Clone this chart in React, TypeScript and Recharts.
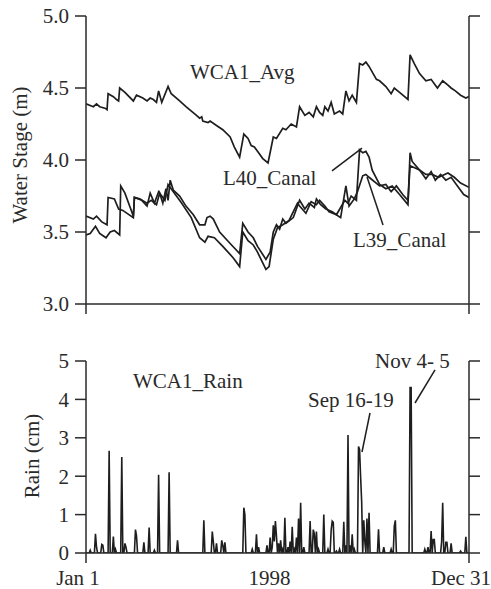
import React from 'react';
import { LineChart, Line, XAxis, YAxis, ReferenceLine, ReferenceDot } from 'recharts';

// ---- Water stage (m), day of year 1998 ----
const wcaDays = [0,7,10,13,18,20,21,26,29,31,32,37,45,48,54,58,61,64,67,69,72,78,81,89,95,105,108,110,111,116,118,124,130,137,141,146,150,154,157,160,163,168,173,178,181,187,190,195,200,203,208,212,216,219,222,225,227,230,233,236,241,244,247,250,253,257,260,263,266,269,276,279,285,290,293,298,306,308,312,317,323,328,331,334,339,344,347,351,356,361,364];
const wcaStage = [4.39,4.37,4.39,4.37,4.36,4.35,4.46,4.44,4.42,4.41,4.50,4.47,4.41,4.45,4.43,4.41,4.43,4.42,4.40,4.48,4.40,4.51,4.46,4.41,4.37,4.31,4.29,4.30,4.27,4.26,4.27,4.24,4.21,4.16,4.09,4.02,4.18,4.15,4.10,4.09,4.06,4.01,3.98,4.16,4.15,4.22,4.21,4.25,4.23,4.37,4.31,4.33,4.30,4.37,4.33,4.31,4.37,4.34,4.40,4.32,4.34,4.32,4.48,4.41,4.45,4.40,4.67,4.66,4.68,4.65,4.56,4.55,4.51,4.46,4.50,4.47,4.42,4.73,4.67,4.60,4.55,4.56,4.53,4.50,4.55,4.52,4.50,4.48,4.45,4.43,4.44];

const l40Days = [0,7,10,15,20,21,27,31,35,45,46,51,58,62,67,70,73,76,78,80,83,89,95,102,108,113,115,118,121,127,137,146,149,154,159,163,171,175,178,181,184,187,190,197,201,203,208,212,217,219,223,228,234,238,242,246,249,252,257,260,263,266,269,272,279,285,291,298,306,308,310,317,323,328,332,337,342,347,353,359,364];
const l40Stage = [3.61,3.59,3.61,3.57,3.55,3.74,3.73,3.66,3.65,3.60,3.74,3.73,3.70,3.72,3.69,3.77,3.70,3.80,3.72,3.86,3.79,3.75,3.68,3.62,3.55,3.55,3.60,3.61,3.59,3.50,3.42,3.35,3.56,3.50,3.46,3.40,3.31,3.36,3.50,3.55,3.52,3.59,3.56,3.60,3.68,3.72,3.66,3.70,3.67,3.73,3.69,3.66,3.64,3.62,3.67,3.72,3.70,3.75,3.72,4.07,4.05,4.06,4.02,3.93,3.83,3.80,3.82,3.76,3.69,4.05,3.99,3.93,3.87,3.92,3.86,3.90,3.86,3.88,3.82,3.76,3.74];

const l39Days = [0,4,9,13,19,23,27,32,33,37,42,45,46,53,58,61,65,69,75,78,83,91,100,108,113,116,122,130,140,146,149,154,159,163,171,174,178,182,187,193,201,203,209,214,219,222,227,231,238,242,247,250,255,258,263,266,269,279,285,290,295,301,306,308,317,323,329,335,344,350,356,364];
const l39Stage = [3.48,3.49,3.54,3.49,3.46,3.50,3.51,3.48,3.82,3.77,3.67,3.61,3.74,3.72,3.68,3.77,3.70,3.78,3.72,3.83,3.78,3.70,3.60,3.46,3.43,3.47,3.46,3.40,3.32,3.26,3.50,3.44,3.41,3.36,3.24,3.26,3.45,3.53,3.55,3.58,3.70,3.68,3.63,3.71,3.69,3.72,3.68,3.64,3.62,3.60,3.82,3.68,3.73,3.78,3.89,3.90,3.88,3.82,3.83,3.78,3.82,3.76,3.72,3.96,3.93,3.90,3.90,3.88,3.91,3.88,3.84,3.81];

// ---- Rain (cm), rainy days; all other days are 0 ----
const rainDays = [4,9,10,15,16,22,26,28,34,37,38,47,48,55,60,65,69,79,87,112,120,121,124,129,130,132,150,151,158,162,164,172,175,177,178,179,180,181,183,185,187,189,192,194,196,198,200,202,204,207,213,216,217,219,221,226,230,233,234,235,238,241,245,247,249,251,253,255,259,260,261,262,264,265,267,269,278,283,290,293,294,308,309,322,325,328,330,331,338,339,342,343,347,356,361];
const rainCm = [0.07,0.5,0.15,0.22,0.2,2.66,0.43,0.1,2.5,0.25,0.15,0.61,0.45,0.28,0.66,0.07,2.04,2.1,0.33,0.85,0.56,0.3,0.25,0.33,0.2,0.28,1.18,1.0,0.1,0.49,0.15,0.2,0.4,0.15,0.72,0.3,0.83,0.45,0.25,0.33,0.1,0.92,0.15,0.3,0.68,0.1,0.4,0.9,1.31,0.15,0.83,0.61,0.5,0.56,0.1,1.0,0.1,0.6,0.83,0.8,0.05,0.1,0.81,0.2,3.07,0.2,0.49,0.1,2.77,2.7,1.98,1.33,0.85,0.3,0.9,1.05,0.62,0.15,0.1,0.7,0.85,4.31,4.31,0.1,0.15,0.57,0.35,0.35,0.3,1.31,0.28,0.28,0.25,0.05,0.42];

const stageTicks = [3.0, 3.5, 4.0, 4.5, 5.0];
const rainTicks = [0, 1, 2, 3, 4, 5];
const xTickDays = [0, 182, 364];
const xTickLabels = ['Jan 1', '1998', 'Dec 31'];

const pairs = (d: number[], v: number[]) => d.map((day, i) => ({ d: day, v: v[i] }));
const wcaData = pairs(wcaDays, wcaStage);
const l40Data = pairs(l40Days, l40Stage);
const l39Data = pairs(l39Days, l39Stage);
const rainData = Array.from({ length: 365 }, (_, day) => {
  const k = rainDays.indexOf(day);
  return { d: day, v: k >= 0 ? rainCm[k] : 0 };
});

const FONT = '"Liberation Serif", "Times New Roman", serif';
const FS = 21;
const INK = '#1e1e1e';
const AX = '#2a2a2a';

const tickStyle = { fontFamily: FONT, fontSize: FS, fill: '#2a2a2a' };

const TextAt = (txt: string, anchor: 'start' | 'middle' | 'end' = 'start') => (p: any) => (
  <text x={p.cx} y={p.cy} textAnchor={anchor} fontFamily={FONT} fontSize={FS} fill="#2a2a2a">{txt}</text>
);

const TS = 10;
const TM = 7;
const RainXTick = (p: any) => {
  const { x, y, payload } = p;
  const idx = xTickDays.indexOf(payload.value);
  return (
    <g>
      {payload.value !== 182 && (
        <line x1={x} x2={x} y1={y - TS - TM} y2={y - TM} stroke={AX} strokeWidth={1.5} />
      )}
      <text x={x - 8} y={y} dy="0.71em" textAnchor="middle" fontFamily={FONT} fontSize={FS} fill="#2a2a2a">
        {xTickLabels[idx]}
      </text>
    </g>
  );
};

export default function App() {
  const W = 491;
  return (
    <div style={{ position: 'absolute', left: 0, top: 0, width: W, height: 589, background: '#fff' }}>
      <div style={{ position: 'absolute', left: 0, top: 0 }}>
        <LineChart width={W} height={330} margin={{ top: 16, right: 0, bottom: 0, left: 0 }}>
          <XAxis
            dataKey="d"
            type="number"
            domain={[0, 364]}
            ticks={[0, 364]}
            tickFormatter={() => ''}
            tickSize={10}
            height={26}
            axisLine={{ stroke: AX, strokeWidth: 1.5 }}
            tickLine={{ stroke: AX, strokeWidth: 1.5 }}
            allowDataOverflow
          />
          <YAxis
            type="number"
            domain={[3, 5]}
            ticks={stageTicks}
            tickFormatter={(v: number) => v.toFixed(1)}
            width={86}
            tickSize={11}
            tickMargin={6}
            tick={tickStyle}
            axisLine={{ stroke: AX, strokeWidth: 1.5 }}
            tickLine={{ stroke: AX, strokeWidth: 1.5 }}
            allowDataOverflow
          />
          <YAxis
            yAxisId="r"
            orientation="right"
            type="number"
            domain={[3, 5]}
            ticks={stageTicks}
            tickFormatter={() => ''}
            width={22}
            tickSize={11}
            axisLine={{ stroke: AX, strokeWidth: 1.5 }}
            tickLine={{ stroke: AX, strokeWidth: 1.5 }}
            allowDataOverflow
          />
          <Line data={wcaData} dataKey="v" type="linear" stroke={INK} strokeWidth={1.7} dot={false} isAnimationActive={false} />
          <Line data={l40Data} dataKey="v" type="linear" stroke={INK} strokeWidth={1.7} dot={false} isAnimationActive={false} />
          <Line data={l39Data} dataKey="v" type="linear" stroke={INK} strokeWidth={1.7} dot={false} isAnimationActive={false} />
          <ReferenceLine segment={[{ x: 233.8, y: 3.924 }, { x: 262.3, y: 4.083 }]} stroke={INK} strokeWidth={1.5} />
          <ReferenceLine segment={[{ x: 282.3, y: 3.549 }, { x: 267.1, y: 3.882 }]} stroke={INK} strokeWidth={1.5} />
          <ReferenceDot x={98.8} y={4.5625} r={0} shape={TextAt('WCA1_Avg')} />
          <ReferenceDot x={130.2} y={3.826} r={0} shape={TextAt('L40_Canal')} />
          <ReferenceDot x={253.8} y={3.396} r={0} shape={TextAt('L39_Canal')} />
        </LineChart>
      </div>
      <div style={{ position: 'absolute', left: 0, top: 330 }}>
        <LineChart width={W} height={259} data={rainData} margin={{ top: 31, right: 0, bottom: 0, left: 0 }}>
          <XAxis
            dataKey="d"
            type="number"
            domain={[0, 364]}
            ticks={xTickDays}
            tick={<RainXTick />}
            tickLine={false}
            tickSize={TS}
            tickMargin={TM}
            height={36}
            axisLine={{ stroke: AX, strokeWidth: 1.5 }}
            allowDataOverflow
          />
          <YAxis
            type="number"
            domain={[0, 5]}
            ticks={rainTicks}
            width={86}
            tickSize={11}
            tickMargin={6}
            tick={tickStyle}
            axisLine={{ stroke: AX, strokeWidth: 1.5 }}
            tickLine={{ stroke: AX, strokeWidth: 1.5 }}
            allowDataOverflow
          />
          <YAxis
            yAxisId="r"
            orientation="right"
            type="number"
            domain={[0, 5]}
            ticks={rainTicks}
            tickFormatter={() => ''}
            width={22}
            tickSize={11}
            axisLine={{ stroke: AX, strokeWidth: 1.5 }}
            tickLine={{ stroke: AX, strokeWidth: 1.5 }}
            allowDataOverflow
          />
          <Line dataKey="v" type="linear" stroke={INK} strokeWidth={1.6} dot={false} isAnimationActive={false} />
          <ReferenceLine segment={[{ x: 269.9, y: 3.646 }, { x: 262.3, y: 2.63 }]} stroke={INK} strokeWidth={1.5} />
          <ReferenceLine segment={[{ x: 331.7, y: 4.766 }, { x: 312.7, y: 3.906 }]} stroke={INK} strokeWidth={1.5} />
          <ReferenceDot x={44.7} y={4.297} r={0} shape={TextAt('WCA1_Rain')} />
          <ReferenceDot x={211} y={3.8} r={0} shape={TextAt('Sep 16-19')} />
          <ReferenceDot x={274.7} y={4.82} r={0} shape={TextAt('Nov 4- 5')} />
        </LineChart>
      </div>
      <svg width={W} height={589} style={{ position: 'absolute', left: 0, top: 0, pointerEvents: 'none' }}>
        <text x={20} y={155} transform="rotate(-90, 20, 155)" textAnchor="middle" dominantBaseline="central" fontFamily={FONT} fontSize={FS} fill="#2a2a2a">
          Water Stage (m)
        </text>
        <text x={32} y={456} transform="rotate(-90, 32, 456)" textAnchor="middle" dominantBaseline="central" fontFamily={FONT} fontSize={FS} fill="#2a2a2a">
          Rain (cm)
        </text>
      </svg>
    </div>
  );
}
